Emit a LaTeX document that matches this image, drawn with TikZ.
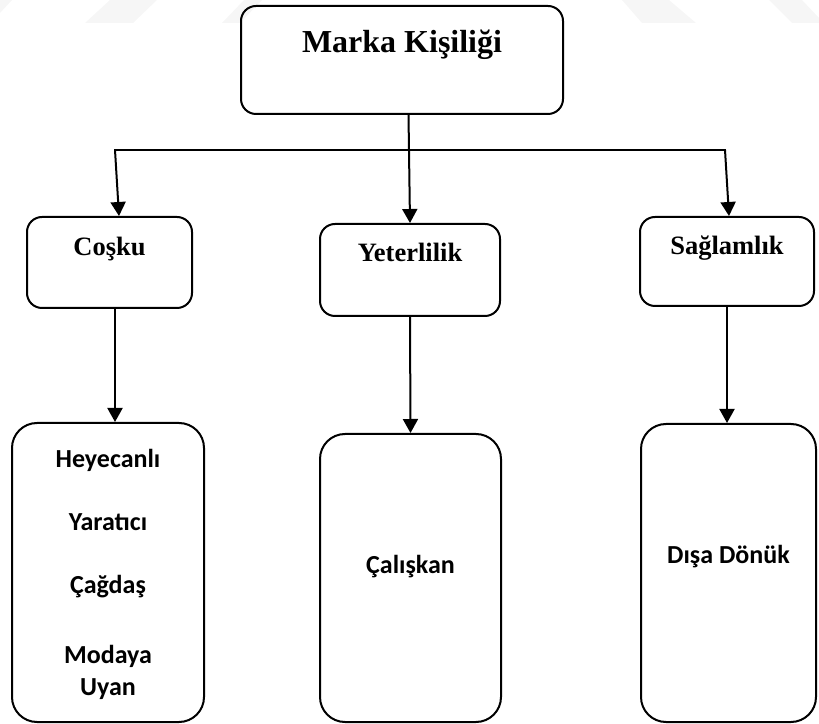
\documentclass[tikz,border=0pt]{standalone}
\usepackage{fontspec}
\setmainfont{Liberation Serif}
\newfontfamily\carlito{Carlito}
\usepackage{tikz}
\usetikzlibrary{arrows.meta,positioning}
\tikzset{
  box/.style  ={draw,line width=2pt,rounded corners=15pt,inner sep=0pt,anchor=north},
  head/.style ={box,font=\fontsize{26.5}{31}\selectfont\bfseries},
  leaf/.style ={box,rounded corners=25pt,font=\carlito\fontsize{26}{31}\selectfont\bfseries},
  flow/.style ={-{Triangle[length=14pt,width=15pt]},line width=2pt},
  bus/.style  ={line width=2pt,line cap=rect},
  wmark/.style={fill=gray!7,draw=none},
}

\begin{document}
\begin{tikzpicture}[x=1pt,y=1pt]
  \useasboundingbox (0,0) rectangle (819,723);
  \fill[wmark] (0,723) -- (12,723) -- (0,710) -- cycle;
  \fill[wmark] (110,723) -- (157,723) -- (133,700) -- (85,700) -- cycle;
  \fill[wmark] (222,700) -- (240,700) -- (262,723) -- (244,723) -- cycle;
  \fill[wmark] (622,723) -- (669,723) -- (696,700) -- (642,700) -- cycle;
  \fill[wmark] (769,723) -- (802,723) -- (819,705) -- (819,700) -- (792,700) -- cycle;
  \node[box,font=\fontsize{32}{37}\selectfont\bfseries,minimum width=322pt,
        text height=47pt,text depth=61pt] (marka) at (402,718) {Marka Kişiliği};
  \node[head,minimum width=165pt,text height=39pt,text depth=52pt] (cosku) at (109.5,507) {Coşku};
  \node[head,minimum width=180pt,text height=37.7pt,text depth=54.3pt] (yet) at (410,500) {Yeterlilik};
  \node[head,minimum width=174pt,text height=38pt,text depth=51pt] (sag) at (727,507) {Sağlamlık};
  \node[leaf,minimum width=192pt,text height=44.7pt,text depth=254.3pt] (coslist) at (108,301)
       {\begin{tabular}[t]{@{}c@{}}Heyecanlı\\[32pt]Yaratıcı\\[32pt]Çağdaş\\[39pt]Modaya\\[1pt]Uyan\end{tabular}};
  \node[leaf,minimum width=181pt,text height=140pt,text depth=148pt] (calis) at (410.5,290) {Çalışkan};
  \node[leaf,minimum width=175pt,text height=140pt,text depth=158pt] (disa) at (728.5,300) {Dışa Dönük};
  \coordinate (busL) at (115,573);
  \coordinate (busR) at (725,573);
  \draw[bus] (busL) -- (busR);
  \draw[flow] ([xshift=6.5pt]marka.south) -- (yet.north);
  \draw[flow] (busL) -- ([xshift=9.5pt]cosku.north);
  \draw[flow] (busR) -- ([xshift=2pt]sag.north);
  \draw[flow] ([xshift=5.5pt]cosku.south) -- ([xshift=5.5pt]cosku.south |- coslist.north);
  \draw[flow] (yet.south) -- (calis.north);
  \draw[flow] (sag.south) -- (sag.south |- disa.north);
\end{tikzpicture}
\end{document}
